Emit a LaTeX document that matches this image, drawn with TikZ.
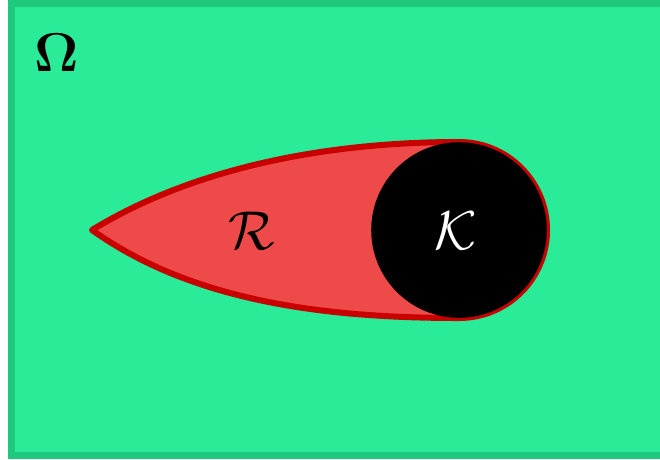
\documentclass[tikz,border=0pt]{standalone}
\usepackage{amsmath}
\definecolor{lightgreen}{RGB}{42,235,152}
\definecolor{darkgreen}{RGB}{30,200,125}
\definecolor{fillred}{RGB}{239,74,74}
\definecolor{edgered}{RGB}{200,0,0}
\tikzset{
  biglabel/.style={inner sep=0pt, font=\Huge, scale=2.2},
}
\begin{document}
\begin{tikzpicture}[x=1pt,y=-1pt]
\useasboundingbox (0,0) rectangle (660,459);
\fill[white] (0,0) rectangle (660,459);
\fill[darkgreen] (8,0) rectangle (660,459);
\fill[lightgreen] (15,7) rectangle (660,452);
% teardrop region R
\filldraw[fill=fillred, draw=edgered, line width=6pt, line join=round]
  (92,230) .. controls (190,170) and (320,142) .. (459,142)
  arc[start angle=-90, end angle=90, radius=88]
  .. controls (320,318) and (190,300) .. (92,230) -- cycle;
% obstacle K
\fill[black] (459,230) circle[radius=87.8];
\node[biglabel] (omega) at (57,53) {$\boldsymbol{\Omega}$};
\node[biglabel] (R) at (252,231) {$\mathcal{R}$};
\node[biglabel, text=white] (K) at (456,231) {$\mathcal{K}$};
\end{tikzpicture}
\end{document}
